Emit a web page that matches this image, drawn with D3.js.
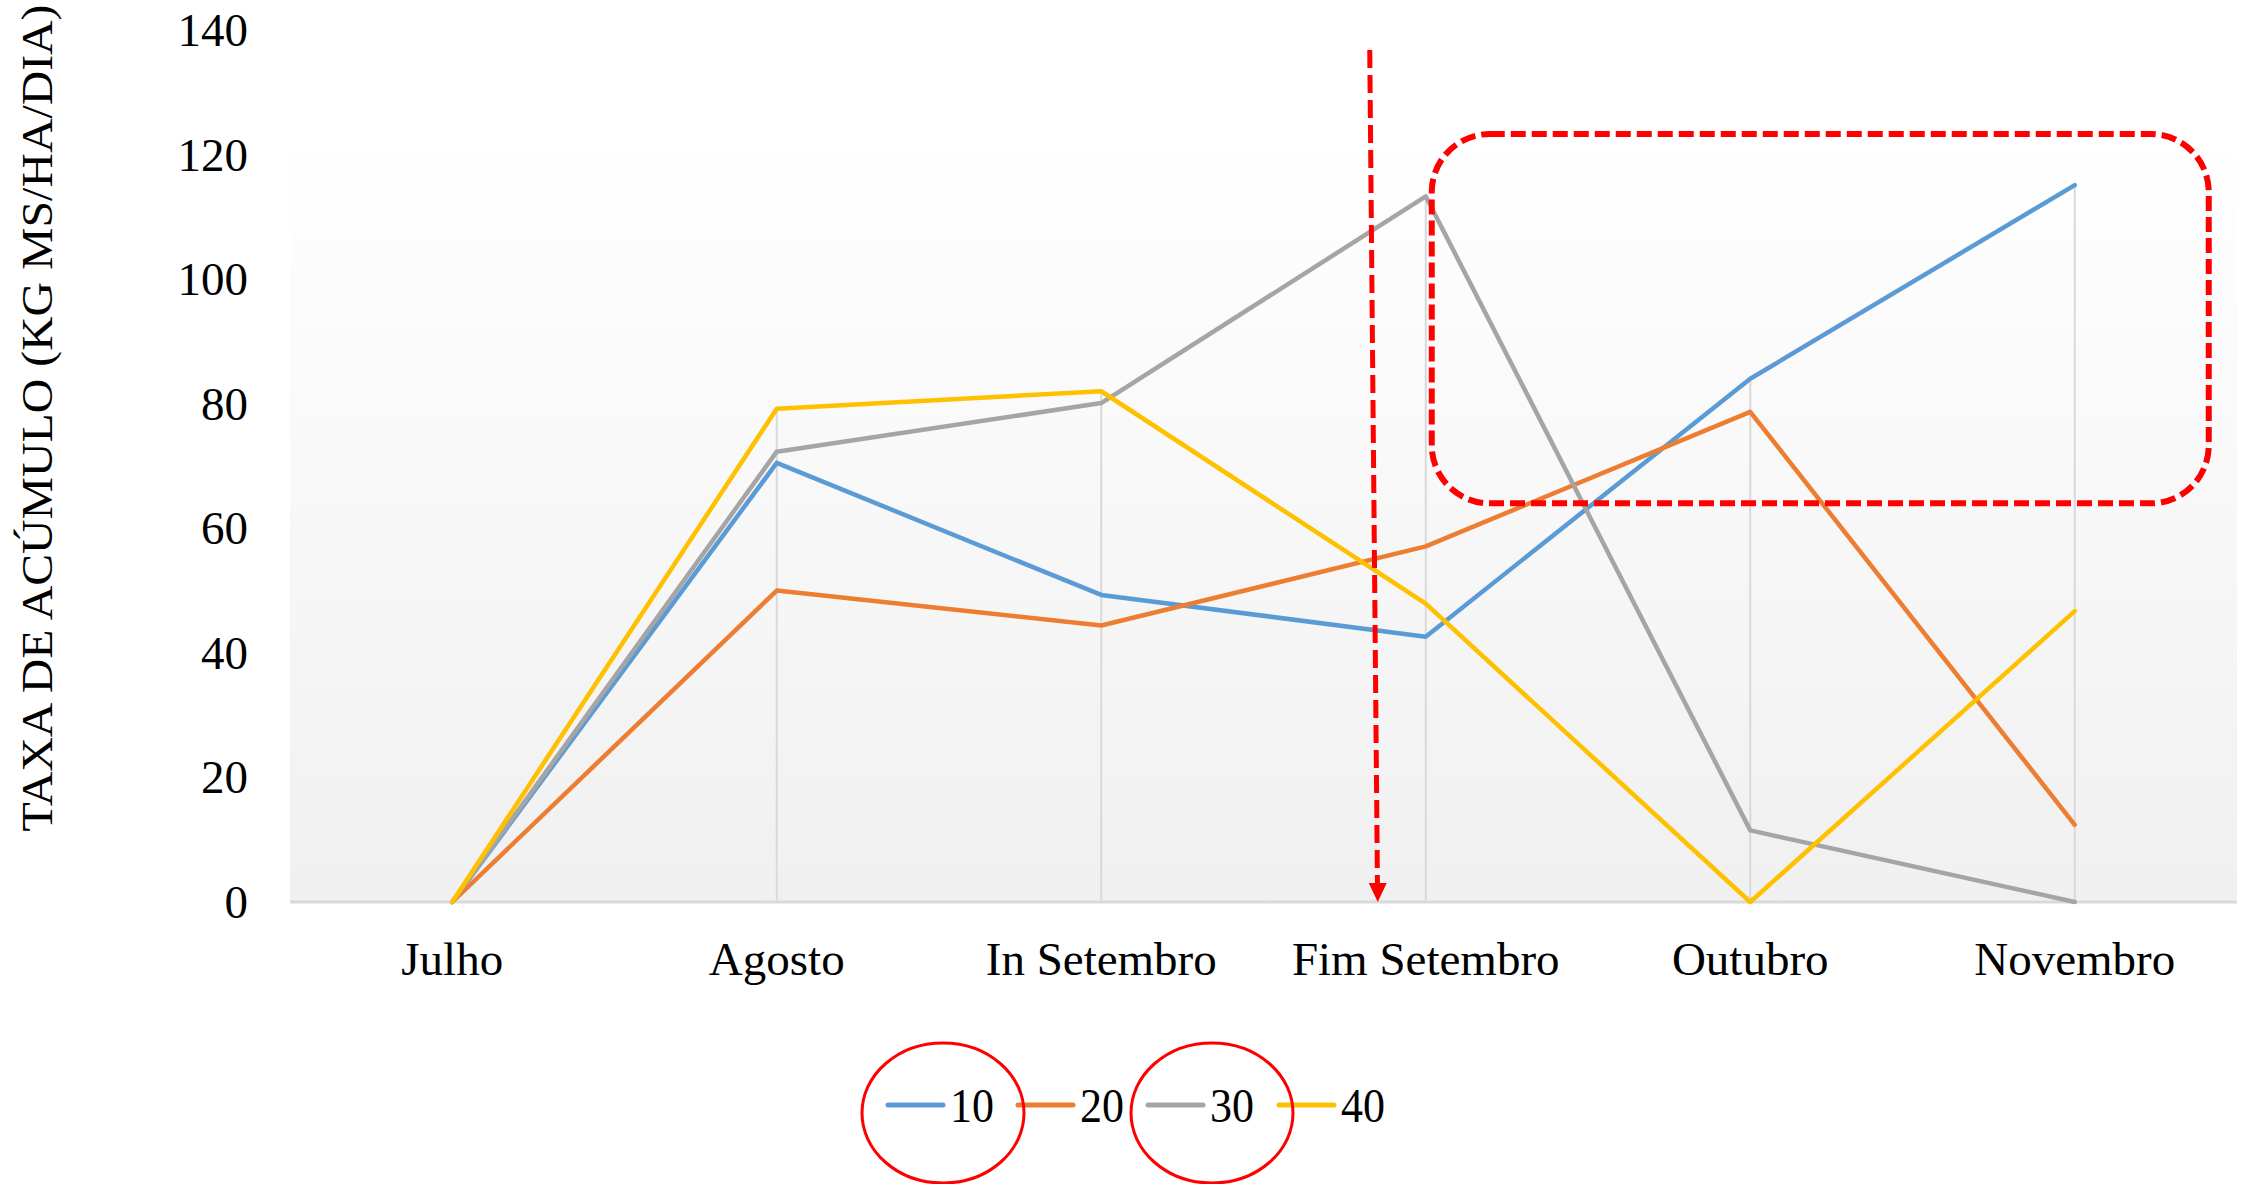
<!DOCTYPE html>
<html lang="pt">
<head>
<meta charset="UTF-8">
<title>Taxa de acúmulo</title>
<style>
  html, body { margin: 0; padding: 0; background: #fff; overflow: hidden; }
  svg { display: block; font-family: 'Liberation Serif', 'Times New Roman', serif; }
</style>
</head>
<body>
<svg width="2249" height="1184"></svg>
<script src="https://d3js.org/d3.v7.min.js"></script>
<script>
const months = ["Julho", "Agosto", "In Setembro", "Fim Setembro", "Outubro", "Novembro"];
const seriesNames = ["10", "20", "30", "40"];
const colors = ["#5b9bd5", "#ed7d31", "#a5a5a5", "#ffc000"];
const s10 = [0, 70.5, 49.3, 42.6, 84.0, 115.1];
const s20 = [0, 50.0, 44.4, 57.1, 78.7, 12.4];
const s30 = [0, 72.3, 80.1, 113.3, 11.5, 0];
const s40 = [0, 79.2, 82.0, 47.9, 0, 46.7];
const yTicks = [0, 20, 40, 60, 80, 100, 120, 140];

const series = [s10, s20, s30, s40];

const svg = d3.select("svg");
const plotLeft = 290, plotRight = 2237, plotTop = 30, plotBottom = 902;

const x = d3.scaleBand().domain(months).range([plotLeft, plotRight]);
const y = d3.scaleLinear().domain([0, 140]).range([plotBottom, plotTop]);
const cx = m => x(m) + x.bandwidth() / 2;

// plot background gradient
const defs = svg.append("defs");
const grad = defs.append("linearGradient").attr("id", "bg")
  .attr("x1", 0).attr("y1", 0).attr("x2", 0).attr("y2", 1);
grad.append("stop").attr("offset", "0%").attr("stop-color", "#ffffff");
grad.append("stop").attr("offset", "12%").attr("stop-color", "#ffffff");
grad.append("stop").attr("offset", "100%").attr("stop-color", "#f0f0f0");

svg.append("rect")
  .attr("x", plotLeft).attr("y", plotTop)
  .attr("width", plotRight - plotLeft).attr("height", plotBottom - plotTop)
  .attr("fill", "url(#bg)");

// drop lines: from the highest point of each category down to the axis
const maxAt = months.map((m, i) => d3.max(series, s => s[i]));
svg.append("g").selectAll("line").data(months).join("line")
  .attr("x1", d => cx(d)).attr("x2", d => cx(d))
  .attr("y1", (d, i) => y(maxAt[i])).attr("y2", plotBottom)
  .attr("stroke", "#d9d9d9").attr("stroke-width", 2);

// bottom axis line
svg.append("line")
  .attr("x1", plotLeft).attr("x2", plotRight)
  .attr("y1", plotBottom).attr("y2", plotBottom)
  .attr("stroke", "#d9d9d9").attr("stroke-width", 3);

// y tick labels
svg.append("g").selectAll("text").data(yTicks).join("text")
  .attr("x", 248).attr("y", d => y(d))
  .attr("dy", "0.34em")
  .attr("text-anchor", "end")
  .attr("font-size", 47)
  .attr("fill", "#000")
  .text(d => d);

// x labels
svg.append("g").selectAll("text").data(months).join("text")
  .attr("x", d => cx(d)).attr("y", 975)
  .attr("text-anchor", "middle")
  .attr("font-size", 47)
  .attr("fill", "#000")
  .text(d => d);

// y axis title
svg.append("text")
  .attr("transform", "translate(52,418) rotate(-90)")
  .attr("text-anchor", "middle")
  .attr("font-size", 45)
  .attr("textLength", 827)
  .attr("lengthAdjust", "spacingAndGlyphs")
  .attr("fill", "#000")
  .text("TAXA DE ACÚMULO (KG MS/HA/DIA)");

// lines
const line = d3.line().x((d, i) => cx(months[i])).y(d => y(d));
svg.append("g").selectAll("path").data(series).join("path")
  .attr("d", d => line(d))
  .attr("fill", "none")
  .attr("stroke", (d, i) => colors[i])
  .attr("stroke-width", 4.5)
  .attr("stroke-linejoin", "round")
  .attr("stroke-linecap", "round");

// legend
const legendX = [888, 1018, 1148, 1279];
const legendY = 1105;
const lg = svg.append("g").selectAll("g").data(seriesNames).join("g")
  .attr("transform", (d, i) => `translate(${legendX[i]},${legendY})`);
lg.append("line")
  .attr("x1", 0).attr("x2", 55).attr("y1", 0).attr("y2", 0)
  .attr("stroke", (d, i) => colors[i])
  .attr("stroke-width", 5)
  .attr("stroke-linecap", "round");
lg.append("text")
  .attr("x", 62).attr("y", 17)
  .attr("font-size", 48)
  .attr("textLength", 44)
  .attr("lengthAdjust", "spacingAndGlyphs")
  .attr("fill", "#000")
  .text(d => d);

// red annotations
const red = "#ff0000";
const ann = svg.append("g");

// dashed arrow
const arrowX0 = cx("Fim Setembro") - 56, arrowX1 = cx("Fim Setembro") - 48;
ann.append("line")
  .attr("x1", arrowX0).attr("y1", 50)
  .attr("x2", arrowX1 - 0.3).attr("y2", plotBottom - 18)
  .attr("stroke", red).attr("stroke-width", 5)
  .attr("stroke-dasharray", "18,7");
ann.append("path")
  .attr("d", `M${arrowX1 - 9},${plotBottom - 19} L${arrowX1 + 9},${plotBottom - 19} L${arrowX1},${plotBottom} Z`)
  .attr("fill", red);

// dashed rounded box around the top right
const boxX = cx("Fim Setembro") + 6;
const boxR = cx("Novembro") + 134;
const boxT = y(123.3), boxB = y(64);
ann.append("rect")
  .attr("x", boxX).attr("y", boxT)
  .attr("width", boxR - boxX).attr("height", boxB - boxT)
  .attr("rx", 58).attr("ry", 58)
  .attr("fill", "none")
  .attr("stroke", red).attr("stroke-width", 6)
  .attr("stroke-dasharray", "15,6");

// ellipses around legend items 10 and 30
ann.selectAll("ellipse").data([943, 1212]).join("ellipse")
  .attr("cx", d => d).attr("cy", 1113)
  .attr("rx", 81).attr("ry", 70)
  .attr("fill", "none")
  .attr("stroke", red).attr("stroke-width", 3);
</script>
</body>
</html>
